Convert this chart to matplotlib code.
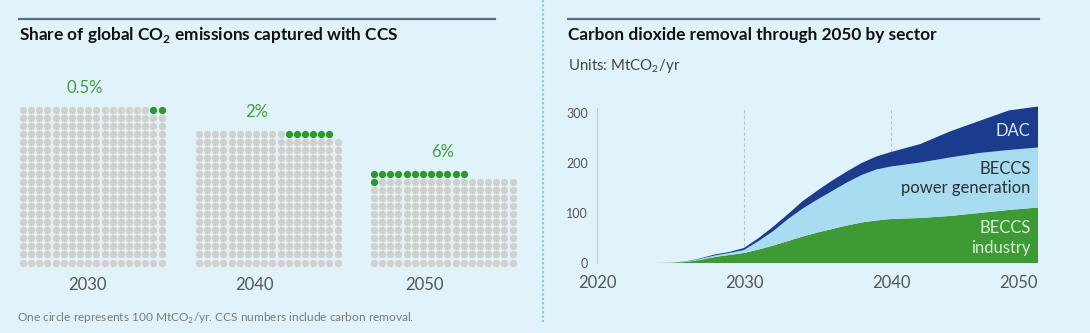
import matplotlib.pyplot as plt
import numpy as np

plt.rcParams['font.family'] = ['Lato', 'DejaVu Sans']
plt.rcParams['mathtext.fontset'] = 'custom'
plt.rcParams['mathtext.rm'] = 'Lato'
plt.rcParams['mathtext.bf'] = 'Lato:bold'

# left panel data: one circle = 100 MtCO2/yr
panel_years = ['2030', '2040', '2050']
share_labels = ['0.5%', '2%', '6%']
grey_circles = [358, 299, 197]
ccs_circles = [2, 6, 13]
partial_side = ['left', 'left', 'right']
n_cols = 18

# right panel data: carbon dioxide removal by sector, MtCO2/yr
years = [2020, 2022, 2024, 2025, 2026, 2027, 2028, 2029, 2030, 2031, 2032, 2033,
         2034, 2035, 2036, 2037, 2038, 2039, 2040, 2042, 2044, 2046, 2048, 2050]
beccs_industry = [0, 0, 0, 0.5, 2, 6, 12, 16, 20, 27, 35, 44,
                  53, 61, 68, 75, 81, 85, 88, 90, 94, 100, 106, 111]
beccs_power = [0, 0, 0, 0, 0.5, 2, 3, 4, 6, 17, 29, 44,
               56, 66, 76, 86, 95, 102, 105, 111, 117, 120, 120, 120]
dac = [0, 0, 0, 0, 0.5, 1, 2, 2, 4, 6, 9, 10,
       15, 18, 21, 22, 24, 26, 29, 37, 52, 64, 79, 82]

bg = '#e1f3fa'
grey = '#d3d0cc'
green_dot = '#2b9a2b'
green = '#3d9a35'
light_blue = '#a8dcf1'
dark_blue = '#1b3b8e'
text_grey = '#555555'

W, H = 1090, 333
fig = plt.figure(figsize=(W / 100, H / 100), dpi=100, facecolor=bg)

# full figure axes in pixel coords for the left panel and headings
ax0 = fig.add_axes([0, 0, 1, 1])
ax0.set_xlim(0, W)
ax0.set_ylim(H, 0)
ax0.axis('off')
ax0.set_facecolor(bg)

# header rules and divider
ax0.plot([19, 495], [19, 19], color='#5b6b82', lw=1.6)
ax0.plot([568, 1039], [19, 19], color='#5b6b82', lw=1.6)
ax0.plot([543, 543], [0, 322], color='#86c8ea', lw=1.6, ls=(0, (1, 1)))

ax0.text(19, 35, 'Share of global CO$_\\mathbf{2}$ emissions captured with CCS',
         fontsize=12.4, fontweight='bold', color='#111111', va='center')
ax0.text(568, 35, 'Carbon dioxide removal through 2050 by sector',
         fontsize=12.4, fontweight='bold', color='#111111', va='center')
ax0.text(568, 66, 'Units: MtCO$_2$/yr', fontsize=10.8, color='#444444', va='center')
ax0.text(17, 318, 'One circle represents 100 MtCO$_2$/yr. CCS numbers include carbon removal.',
         fontsize=8.6, color='#7a7a7a', va='center')

# dot grids
x_start = [23, 199, 374]
label_x = [85, 257, 443]
year_x = [87, 254, 424]
dx, dy = 8.15, 8.05
y_bottom = 262.5
for i in range(3):
    full_rows = grey_circles[i] // n_cols
    rest = grey_circles[i] % n_cols
    gx, gy, cx, cy = [], [], [], []
    for r in range(full_rows):
        for c in range(n_cols):
            gx.append(c); gy.append(r)
    if partial_side[i] == 'left':
        grey_cols = list(range(rest))
        free_cols = list(range(rest, n_cols))
    else:
        grey_cols = list(range(n_cols - rest, n_cols))
        free_cols = list(range(n_cols - rest))
    for c in grey_cols:
        gx.append(c); gy.append(full_rows)
    slots = [(c, full_rows) for c in free_cols]
    slots += [(c, full_rows + 1) for c in range(n_cols)]
    for c, r in slots[:ccs_circles[i]]:
        cx.append(c); cy.append(r)
    gx = x_start[i] + np.array(gx) * dx
    gy = y_bottom - np.array(gy) * dy
    cx = x_start[i] + np.array(cx) * dx
    cy = y_bottom - np.array(cy) * dy
    ax0.scatter(gx, gy, s=28, color=grey, linewidths=0)
    ax0.scatter(cx, cy, s=28, color=green_dot, linewidths=0)
    top = min(gy.min(), cy.min())
    ax0.text(label_x[i], top - 22, share_labels[i], fontsize=12, color='#3f9d3f',
             ha='center', va='center')
    ax0.text(year_x[i], 285, panel_years[i], fontsize=12, color=text_grey,
             ha='center', va='center')

# right panel: stacked area
ax = fig.add_axes([597 / W, (H - 263) / H, (1038 - 597) / W, 160 / H])
ax.set_facecolor('none')
ax.stackplot(years, beccs_industry, beccs_power, dac,
             colors=[green, light_blue, dark_blue], linewidth=0)
ax.set_xlim(2020, 2050)
ax.set_ylim(0, 320)
for yr in [2030, 2040]:
    ax.axvline(yr, ymax=310 / 320, color='#b8c4cc', lw=0.8, ls=(0, (3, 2)), zorder=0)
for s in ['top', 'right', 'bottom']:
    ax.spines[s].set_visible(False)
ax.spines['left'].set_color('#c4ccd2')
ax.spines['left'].set_linewidth(0.8)
ax.spines['left'].set_bounds(0, 310)
ax.set_yticks([0, 100, 200, 300])
ax.set_xticks([2020, 2030, 2040, 2050])
ax.tick_params(axis='y', length=0, pad=6.5, labelsize=9, labelcolor=text_grey)
ax.tick_params(axis='x', length=0, pad=9, labelsize=12, labelcolor=text_grey)
ax.get_xticklabels()[-1].set_horizontalalignment('right')

ax.text(2049.5, 264, 'DAC', fontsize=12, color='#dfe6f3', ha='right', va='center')
ax.text(2049.5, 188, 'BECCS', fontsize=12, color='#2f2f2f', ha='right', va='center')
ax.text(2049.5, 150, 'power generation', fontsize=12, color='#2f2f2f', ha='right', va='center')
ax.text(2049.5, 70, 'BECCS', fontsize=12, color='#d9eed2', ha='right', va='center')
ax.text(2049.5, 30, 'industry', fontsize=12, color='#d9eed2', ha='right', va='center')

fig.savefig('out.png', dpi=100, facecolor=bg)
